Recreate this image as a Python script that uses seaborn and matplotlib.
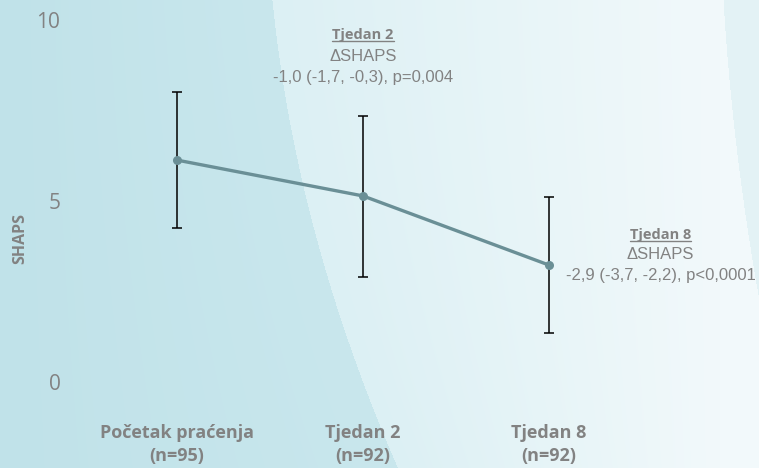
import numpy as np
import pandas as pd
import matplotlib
matplotlib.use("Agg")
import matplotlib.pyplot as plt
from matplotlib.lines import Line2D
import seaborn as sns

# --- data -------------------------------------------------------------
visits = ["Početak praćenja\n(n=95)", "Tjedan 2\n(n=92)", "Tjedan 8\n(n=92)"]
shaps_mean = [6.13, 5.14, 3.23]
shaps_low = [4.25, 2.90, 1.36]
shaps_high = [8.01, 7.36, 5.12]
y_ticks = [0, 5, 10]

change_visit = ["Tjedan 2", "Tjedan 8"]
change_label = ["ΔSHAPS", "ΔSHAPS"]
change_value = ["-1,0 (-1,7, -0,3), p=0,004", "-2,9 (-3,7, -2,2), p<0,0001"]

df = pd.DataFrame({"pos": np.arange(len(visits)), "SHAPS": shaps_mean})

# --- style ------------------------------------------------------------
sns.set_theme(style="white")
plt.rcParams["font.family"] = ["Open Sans", "DejaVu Sans"]
grey = "#828282"
line_col = "#6a8f96"

W, H = 759, 468
fig = plt.figure(figsize=(W / 100, H / 100), dpi=100)

# soft teal-to-white backdrop with curved bands
bg = fig.add_axes([0, 0, 1, 1], zorder=-5)
yy, xx = np.mgrid[0:H, 0:W].astype(float)
c_left0 = np.array([0xc0, 0xe2, 0xe9]) / 255
c_left1 = np.array([0xc9, 0xe7, 0xed]) / 255
c_mid0 = np.array([0xdc, 0xf0, 0xf4]) / 255
c_mid1 = np.array([0xf2, 0xf9, 0xfb]) / 255
c_right = np.array([0xe3, 0xf2, 0xf5]) / 255
edge1 = 272 + 0.10 * yy + 0.000360 * yy ** 2
edge3 = 723 + 0.06 * yy + 0.00020 * yy ** 2
t_left = np.clip(xx / edge1, 0, 1)[..., None]
t_mid = np.clip((xx - edge1) / (720 - edge1), 0, 1)[..., None]
img = np.where((xx < edge1)[..., None],
               c_left0 + (c_left1 - c_left0) * t_left,
               c_mid0 + (c_mid1 - c_mid0) * t_mid)
img = np.where((xx > edge3)[..., None], c_right, img)
bg.imshow(img, extent=[0, W, H, 0], aspect="auto", interpolation="bilinear")
bg.set_xlim(0, W)
bg.set_ylim(H, 0)
bg.axis("off")

# --- main axes --------------------------------------------------------
ax = fig.add_axes([84 / W, (H - 382) / H, 558 / W, 362 / H])
ax.patch.set_alpha(0)

yerr = [np.array(shaps_mean) - np.array(shaps_low),
        np.array(shaps_high) - np.array(shaps_mean)]
ax.errorbar(df["pos"], df["SHAPS"], yerr=yerr, fmt="none", ecolor="black",
            elinewidth=1.1, capsize=3.5, capthick=1.1, zorder=2)
sns.lineplot(data=df, x="pos", y="SHAPS", ax=ax, color=line_col, lw=2.4,
             marker="o", markersize=6.5, markeredgewidth=0, zorder=3)

ax.set_xlim(-0.5, 2.5)
ax.set_ylim(0, 10)
ax.set_xticks(df["pos"])
ax.set_xticklabels(visits, fontsize=13, fontweight="bold", color=grey,
                   linespacing=1.4)
ax.set_yticks(y_ticks)
ax.set_yticklabels([str(v) for v in y_ticks], fontsize=15, color=grey)
ax.tick_params(axis="y", length=0, pad=17)
ax.tick_params(axis="x", length=0, pad=30)
ax.set_xlabel("")
ax.set_ylabel("SHAPS", fontsize=11.5, fontweight="bold", color=grey)
ax.yaxis.set_label_coords((28 - 84) / 558, (382 - 238) / 362)
sns.despine(ax=ax, left=True, bottom=True)

# --- change annotations -----------------------------------------------
ann_x = [1.0, 2.60]
ann_y = [(9.59, 8.98, 8.40), (4.06, 3.51, 2.93)]
arial = ["Liberation Sans", "DejaVu Sans"]
titles = []
for i in range(len(change_visit)):
    t = ax.text(ann_x[i], ann_y[i][0], change_visit[i], ha="center",
                va="center", fontsize=10.5, fontweight="bold", color=grey,
                clip_on=False)
    titles.append(t)
    ax.text(ann_x[i], ann_y[i][1], change_label[i], ha="center", va="center",
            fontsize=12, color=grey, family=arial, clip_on=False)
    ax.text(ann_x[i], ann_y[i][2], change_value[i], ha="center", va="center",
            fontsize=12, color=grey, family=arial, clip_on=False)

# underline the visit titles
fig.canvas.draw()
renderer = fig.canvas.get_renderer()
for t in titles:
    bb = t.get_window_extent(renderer)
    y0 = bb.y0 + 1.0
    fig.add_artist(Line2D([bb.x0 / W, bb.x1 / W], [y0 / H, y0 / H],
                          transform=fig.transFigure, color=grey, lw=1.0))

fig.savefig("out.png", dpi=100)
